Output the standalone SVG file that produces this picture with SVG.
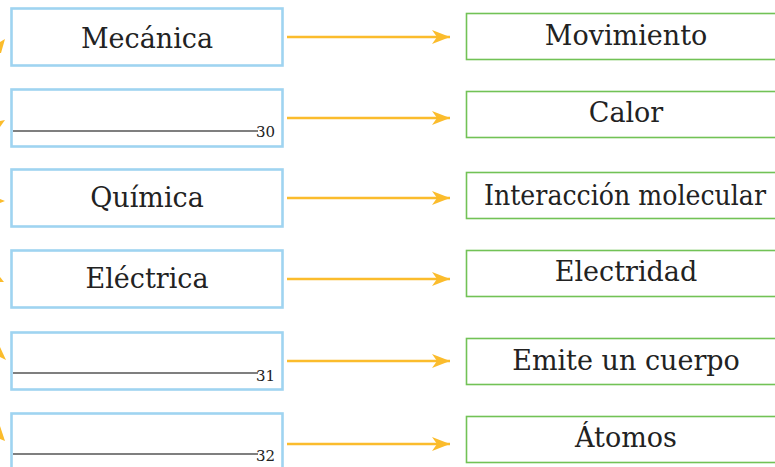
<svg xmlns="http://www.w3.org/2000/svg" width="775" height="467" viewBox="0 0 775 467">
<defs>
<marker id="ah" markerUnits="userSpaceOnUse" markerWidth="20" markerHeight="14" refX="18" refY="7" orient="auto">
<path d="M0,0 L18,7 L0,14 L5,7 Z" fill="#fbbc2c"/>
</marker>
<style>
.lb{fill:#fff;stroke:#9fd4f1;stroke-width:2.6}
.rb{fill:#fff;stroke:#72c256;stroke-width:1.6}
.t{font-size:27px;fill:#222;text-anchor:middle}
.n{font-size:15px;fill:#222}
.bl{stroke:#555;stroke-width:1.6}
.ar{stroke:#fbbc2c;stroke-width:2.6;fill:none}
.frag{fill:#fbbc2c}
</style>
</defs>
<rect width="775" height="467" fill="#fff"/>
<g id="connectors">
<line class="ar" x1="287" y1="37" x2="450" y2="37" marker-end="url(#ah)"/>
<line class="ar" x1="287" y1="118" x2="450" y2="118" marker-end="url(#ah)"/>
<line class="ar" x1="287" y1="198" x2="450" y2="198" marker-end="url(#ah)"/>
<line class="ar" x1="287" y1="279" x2="450" y2="279" marker-end="url(#ah)"/>
<line class="ar" x1="287" y1="361" x2="450" y2="361" marker-end="url(#ah)"/>
<line class="ar" x1="287" y1="444" x2="450" y2="444" marker-end="url(#ah)"/>
<polygon class="frag" points="0,42 5,39 1,53 0,53"/>
<polygon class="frag" points="0,121 5,120 0,127"/>
<polygon class="frag" points="0,199 5,201 0,203"/>
<polygon class="frag" points="0,277 4,282 0,282"/>
<polygon class="frag" points="0,347 6,360 0,357"/>
<polygon class="frag" points="0,426 5,441 0,439"/>
</g>
<g font-family="DejaVu Serif, Liberation Serif, serif">
<g id="n-mecanica"><rect class="lb" x="11.5" y="8.5" width="271" height="57"/><text class="t" x="147" y="48">Mecánica</text></g>
<g id="n-blank30"><rect class="lb" x="11.5" y="89.5" width="271" height="57"/><line class="bl" x1="13" y1="131" x2="258" y2="131"/><text class="n" x="256" y="137">30</text></g>
<g id="n-quimica"><rect class="lb" x="11.5" y="169.5" width="271" height="57"/><text class="t" x="147" y="207">Química</text></g>
<g id="n-electrica"><rect class="lb" x="11.5" y="250.5" width="271" height="57"/><text class="t" x="147" y="288">Eléctrica</text></g>
<g id="n-blank31"><rect class="lb" x="11.5" y="332.5" width="271" height="57"/><line class="bl" x1="13" y1="373" x2="258" y2="373"/><text class="n" x="256" y="381">31</text></g>
<g id="n-blank32"><rect class="lb" x="11.5" y="413.5" width="271" height="60"/><line class="bl" x1="13" y1="454" x2="258" y2="454"/><text class="n" x="256" y="461">32</text></g>
<g id="n-movimiento"><rect class="rb" x="466.5" y="13.5" width="320" height="46"/><text class="t" x="626" y="45">Movimiento</text></g>
<g id="n-calor"><rect class="rb" x="466.5" y="91.5" width="320" height="46"/><text class="t" x="626" y="122">Calor</text></g>
<g id="n-interaccion"><rect class="rb" x="466.5" y="172.5" width="320" height="46"/><text class="t" x="625" y="205" textLength="282" lengthAdjust="spacingAndGlyphs">Interacción molecular</text></g>
<g id="n-electridad"><rect class="rb" x="466.5" y="250.5" width="320" height="46"/><text class="t" x="626" y="281">Electridad</text></g>
<g id="n-emite"><rect class="rb" x="466.5" y="338.5" width="320" height="46"/><text class="t" x="626" y="370">Emite un cuerpo</text></g>
<g id="n-atomos"><rect class="rb" x="466.5" y="416.5" width="320" height="46"/><text class="t" x="626" y="447">Átomos</text></g>
</g>
</svg>
